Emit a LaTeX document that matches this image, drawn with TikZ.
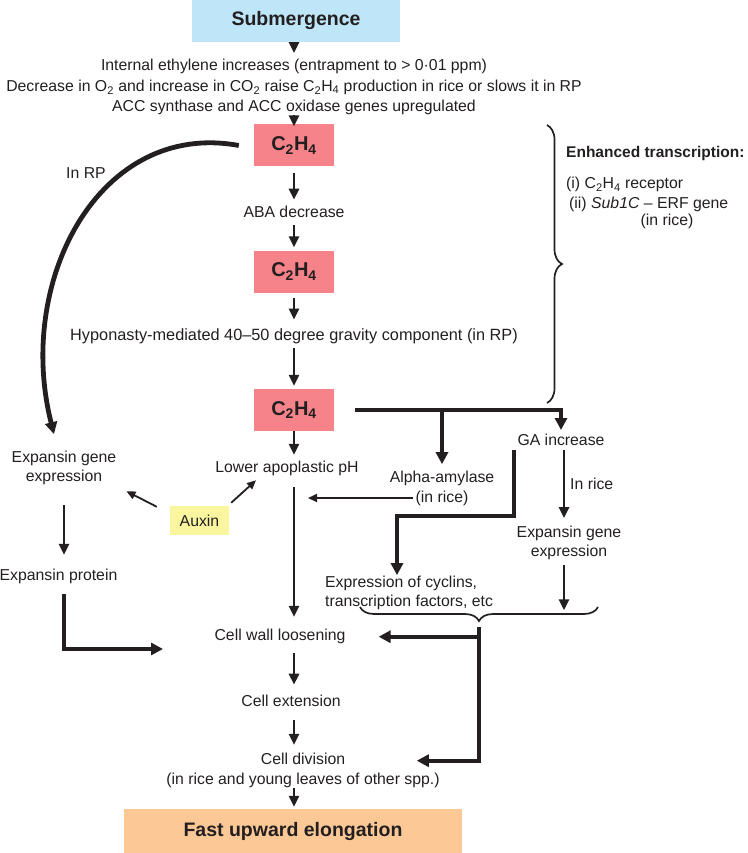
\documentclass[tikz,border=0pt]{standalone}
\usepackage{fontspec}
\setmainfont{Liberation Sans}
\usetikzlibrary{arrows.meta,decorations.pathreplacing,calc}
\definecolor{ink}{HTML}{231F20}
\definecolor{subblue}{HTML}{BEE6F8}
\definecolor{ethpink}{HTML}{F7838A}
\definecolor{auxyellow}{HTML}{FAF6A0}
\definecolor{peach}{HTML}{FBC896}
\begin{document}
\begin{tikzpicture}[x=1pt,y=-1pt,
  txt/.style={inner sep=0pt, text=ink, font=\fontsize{15.8}{19}\selectfont, align=center},
  ethbox/.style={inner sep=0pt, minimum width=80pt, minimum height=42pt, fill=ethpink, text=ink, font=\fontsize{20}{22}\selectfont\bfseries},
  titlebox/.style={inner sep=0pt, text=ink, font=\fontsize{19.5}{22}\selectfont\bfseries},
  arr/.style={draw=ink, line width=2.7pt, -{Triangle[length=11pt,width=10pt]}},
  thk/.style={draw=ink, line width=4.4pt, line join=miter, -{Triangle[length=12pt,width=12pt]}},
  thinarr/.style={draw=ink, line width=1.8pt, -{Triangle[length=9pt,width=8pt]}},
  bracestyle/.style={draw=ink, line width=1.7pt, decorate},
]
\useasboundingbox (0,0) rectangle (747,853);

% main column
\node[titlebox, fill=subblue, minimum width=208pt, minimum height=42pt] (sub) at (296,21) {Submergence};
\node[txt, font=\fontsize{15.8}{20.5}\selectfont] (eth) at (294,87.2) {Internal ethylene increases (entrapment to > 0·01 ppm)\\Decrease in O\textsubscript{2} and increase in CO\textsubscript{2} raise C\textsubscript{2}H\textsubscript{4} production in rice or slows it in RP\\ACC synthase and ACC oxidase genes upregulated};
\node[ethbox] (c1) at (294,145.5) {C\textsubscript{2}H\textsubscript{4}};
\node[txt] (aba) at (294,212) {ABA decrease};
\node[ethbox] (c2) at (294,271.5) {C\textsubscript{2}H\textsubscript{4}};
\node[txt, font=\fontsize{16.3}{19}\selectfont] (hyp) at (294,336.7) {Hyponasty-mediated 40–50 degree gravity component (in RP)};
\node[ethbox] (c3) at (294,410) {C\textsubscript{2}H\textsubscript{4}};
\node[txt] (lap) at (287,468.7) {Lower apoplastic pH};
\node[txt] (cwl) at (280,636.7) {Cell wall loosening};
\node[txt] (cext) at (291,701) {Cell extension};
\node[txt, font=\fontsize{15.8}{20}\selectfont] (cdiv) at (303,770.7) {Cell division\\(in rice and young leaves of other spp.)};
\node[titlebox, fill=peach, minimum width=338pt, minimum height=44pt] (fue) at (293,831) {Fast upward elongation};

% left side
\node[txt] (inrp) at (86,173) {In RP};
\node[txt] (expg) at (64,468.2) {Expansin gene\\expression};
\node[txt] (exprot) at (58.5,576.7) {Expansin protein};
\node[txt, fill=auxyellow, minimum width=59pt, minimum height=29pt] (aux) at (199.5,520.5) {Auxin};

% right side
\node[txt] (ga) at (561,440) {GA increase};
\node[txt, font=\fontsize{15.8}{20}\selectfont] (alpha) at (442,488.7) {Alpha-amylase\\(in rice)};
\node[txt, anchor=west] (inrice) at (570,484) {In rice};
\node[txt] (expg2) at (569,543.2) {Expansin gene\\expression};
\node[txt, anchor=west, align=left] (cyc) at (325,593.2) {Expression of cyclins,\\transcription factors, etc};
\node[txt, anchor=west, font=\fontsize{15.5}{18}\selectfont\bfseries] (enh) at (566,153) {Enhanced transcription:};
\node[txt, anchor=west] (rec) at (566,184.7) {(i) C\textsubscript{2}H\textsubscript{4} receptor};
\node[txt, anchor=west] (sbc) at (569,204.7) {(ii) \textit{Sub1C} – ERF gene};
\node[txt] (inrice2) at (667,221.6) {(in rice)};

% free ends
\coordinate (elb) at (163,649);
\coordinate (phin) at (308,498);
\coordinate (brL) at (360,607);
\coordinate (brR) at (598,607);
\coordinate (brTip) at (479,621);
\coordinate (vbT) at (547,125);
\coordinate (vbB) at (547,403);

% main column arrows
\draw[arr, shorten <=1pt, shorten >=6pt] (eth.north |- sub.south) -- (eth.north);
\draw[arr, shorten >=-2pt] (eth.south) -- (c1.north);
\draw[arr, shorten <=6pt, shorten >=6.3pt] (c1) -- (aba);
\draw[arr, shorten <=7.3pt, shorten >=3pt] (aba) -- (c2);
\draw[arr, shorten <=5pt, shorten >=9.3pt] (c2) -- (hyp);
\draw[arr, shorten <=4pt, shorten >=3pt] (hyp) -- (c3);
\draw[arr, shorten >=6.3pt] (c3.south) -- (c3.south |- lap.north);
\draw[arr, shorten <=11pt, shorten >=12.3pt] (c3.south |- lap.south) -- (c3.south |- cwl.north);
\draw[arr, shorten <=9pt, shorten >=10.3pt] (c3.south |- cwl.south) -- (c3.south |- cext.north);
\draw[arr, shorten <=13.3pt, shorten >=8.3pt] (c3.south |- cext.south) -- (c3.south |- cdiv.north);
\draw[arr, shorten >=2pt] (c3.south |- cdiv.south) -- (c3.south |- fue.north);

% left side connectors
\draw[thk, line width=4.8pt] ([xshift=-15pt]c1.west) .. controls (100,120) and (15,280) .. ([xshift=-10pt,yshift=17pt]expg.north);
\draw[arr, shorten <=20pt, shorten >=14.3pt] (expg.south) -- (expg.south |- exprot.north);
\draw[thk] ($(expg.south |- exprot.south)+(0,10)$) |- (elb);
\draw[thinarr] ([xshift=-13pt,yshift=-1pt]aux.north west) -- ([xshift=10pt,yshift=-6pt]expg.south east);
\draw[thinarr] ([xshift=2pt,yshift=3pt]aux.north east) -- ([xshift=-31pt,yshift=-4pt]lap.south);

% right side connectors
\draw[thk] ([xshift=21pt]c3.east) -| ([yshift=4pt]ga.north);
\draw[thk] (alpha.north |- c3.east) -- ([yshift=7pt]alpha.north);
\draw[thinarr] ([xshift=23pt,yshift=-9.3pt]alpha.west) -- (phin);
\draw[thk] ([xshift=-3.6pt,yshift=-4pt]ga.south west) -- ++(0,66) -| ([xshift=72pt,yshift=1pt]cyc.north west);
\draw[arr] ([xshift=3pt,yshift=-4pt]ga.south) -- ([xshift=-5pt,yshift=8pt]expg2.north);
\draw[arr] ([xshift=-5pt,yshift=-5pt]expg2.south) -- ([xshift=-5pt,yshift=-50pt]expg2.south);

% braces
\draw[bracestyle, decoration={brace, mirror, amplitude=14pt}] (brL) -- (brR);
\draw[bracestyle, decoration={brace, amplitude=15pt}] (vbT) -- (vbB);

% from lower brace
\draw[thk] ([yshift=-6pt]brTip) |- ([xshift=-23pt,yshift=10pt]cdiv.east);
\draw[thk] (brTip |- cwl.east) -- ([xshift=33pt]cwl.east);
\end{tikzpicture}
\end{document}
